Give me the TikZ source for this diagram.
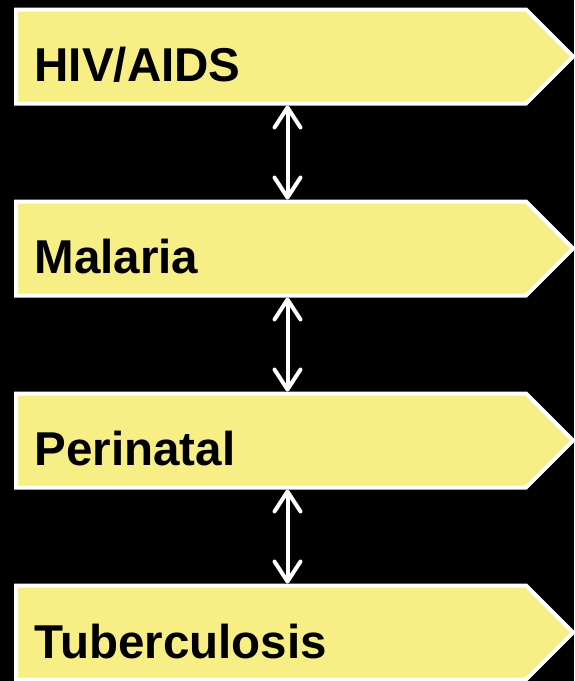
\documentclass[tikz,border=0pt]{standalone}
\usepackage{fontspec}
\setmainfont{Liberation Sans}
\usetikzlibrary{shapes.symbols,arrows.meta}
\definecolor{boxyellow}{RGB}{248,238,134}
\tikzset{
  stagebox/.style={signal, signal to=east, signal pointer angle=90,
    draw=white, line width=4pt, fill=boxyellow, line join=miter,
    minimum width=557pt, minimum height=94pt, inner sep=0pt, anchor=west},
  stagelabel/.style={anchor=base west, inner sep=0pt, text=black,
    font=\bfseries\fontsize{47.5}{50}\selectfont},
  link/.style={draw=white, line width=4pt,
    {Straight Barb[length=20pt, width=26pt, line cap=round, line join=round]}-{Straight Barb[length=20pt, width=26pt, line cap=round, line join=round]}}
}
\begin{document}
\begin{tikzpicture}[x=1pt, y=-1pt]
\fill[black] (0,0) rectangle (574,681);
\useasboundingbox (0,0) rectangle (574,681);
\node[stagebox] (b1) at (14,56.5) {};
\node[stagebox] (b2) at (14,248.5) {};
\node[stagebox] (b3) at (14,440.5) {};
\node[stagebox] (b4) at (14,632.5) {};
\node[stagelabel] (t1) at (34.5,81) {HIV/AIDS};
\node[stagelabel] (t2) at (34.5,273) {Malaria};
\node[stagelabel] (t3) at (34.5,465) {Perinatal};
\node[stagelabel] (t4) at (34.5,658) {Tuberculosis};
\draw[link] ([xshift=16.5pt]b1.south) -- ([xshift=16.5pt]b2.north);
\draw[link] ([xshift=16.5pt]b2.south) -- ([xshift=16.5pt]b3.north);
\draw[link] ([xshift=16.5pt]b3.south) -- ([xshift=16.5pt]b4.north);
\end{tikzpicture}
\end{document}
